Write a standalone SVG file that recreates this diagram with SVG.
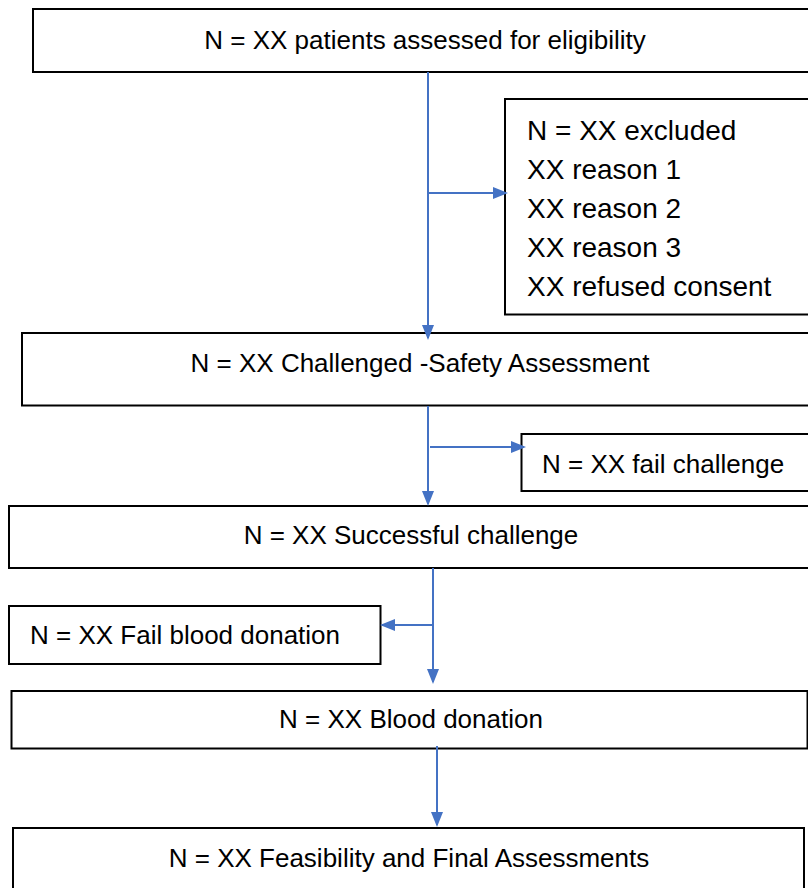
<svg xmlns="http://www.w3.org/2000/svg" width="808" height="888" viewBox="0 0 808 888">
  <defs>
    <style>
      .box { fill: #ffffff; stroke: #000000; stroke-width: 2; }
      .t { font-family: "Liberation Sans", Arial, sans-serif; font-size: 26px; fill: #000000; }
      .tc { text-anchor: middle; }
      .t2 { font-family: "Liberation Sans", Arial, sans-serif; font-size: 28px; fill: #000000; }
      .conn { fill: none; stroke: #4472C4; stroke-width: 2; }
    </style>
    <marker id="arrow" markerUnits="userSpaceOnUse" markerWidth="15" markerHeight="12" refX="13" refY="6" orient="auto">
      <path d="M0,0 L15,6 L0,12 z" fill="#4472C4"/>
    </marker>
  </defs>
  <rect width="808" height="888" fill="#ffffff"/>

  <g id="n1">
    <rect class="box" x="33" y="9" width="800" height="63"/>
    <text class="t tc" x="425" y="49">N = XX patients assessed for eligibility</text>
  </g>

  <g id="n2">
    <rect class="box" x="505" y="99" width="320" height="215.5"/>
    <text class="t2" x="527" y="140">N = XX excluded</text>
    <text class="t2" x="527" y="179">XX reason 1</text>
    <text class="t2" x="527" y="218">XX reason 2</text>
    <text class="t2" x="527" y="257">XX reason 3</text>
    <text class="t2" x="527" y="296">XX refused consent</text>
  </g>

  <g id="n3">
    <rect class="box" x="22" y="333" width="810" height="72.5"/>
    <text class="t tc" x="420" y="372">N = XX Challenged -Safety Assessment</text>
  </g>

  <g id="n4">
    <rect class="box" x="521.5" y="434" width="310" height="57"/>
    <text class="t" x="542" y="472.5">N = XX fail challenge</text>
  </g>

  <g id="n5">
    <rect class="box" x="9" y="506" width="820" height="62"/>
    <text class="t tc" x="411" y="543.5">N = XX Successful challenge</text>
  </g>

  <g id="n6">
    <rect class="box" x="9" y="606" width="371.5" height="58"/>
    <text class="t" x="30" y="643.5">N = XX Fail blood donation</text>
  </g>

  <g id="n7">
    <rect class="box" x="11.5" y="691" width="796" height="57.5"/>
    <text class="t tc" x="411" y="727.5">N = XX Blood donation</text>
  </g>

  <g id="n8">
    <rect class="box" x="13" y="828" width="791" height="80"/>
    <text class="t tc" x="409" y="867">N = XX Feasibility and Final Assessments</text>
  </g>

  <g id="connectors">
    <line class="conn" x1="428" y1="72" x2="428" y2="338" marker-end="url(#arrow)"/>
    <line class="conn" x1="428" y1="193" x2="506" y2="193" marker-end="url(#arrow)"/>
    <line class="conn" x1="428" y1="406" x2="428" y2="504" marker-end="url(#arrow)"/>
    <line class="conn" x1="430" y1="447" x2="524" y2="447" marker-end="url(#arrow)"/>
    <line class="conn" x1="433" y1="568" x2="433" y2="682" marker-end="url(#arrow)"/>
    <line class="conn" x1="434" y1="625" x2="382" y2="625" marker-end="url(#arrow)"/>
    <line class="conn" x1="437" y1="746" x2="437" y2="825" marker-end="url(#arrow)"/>
  </g>
</svg>
